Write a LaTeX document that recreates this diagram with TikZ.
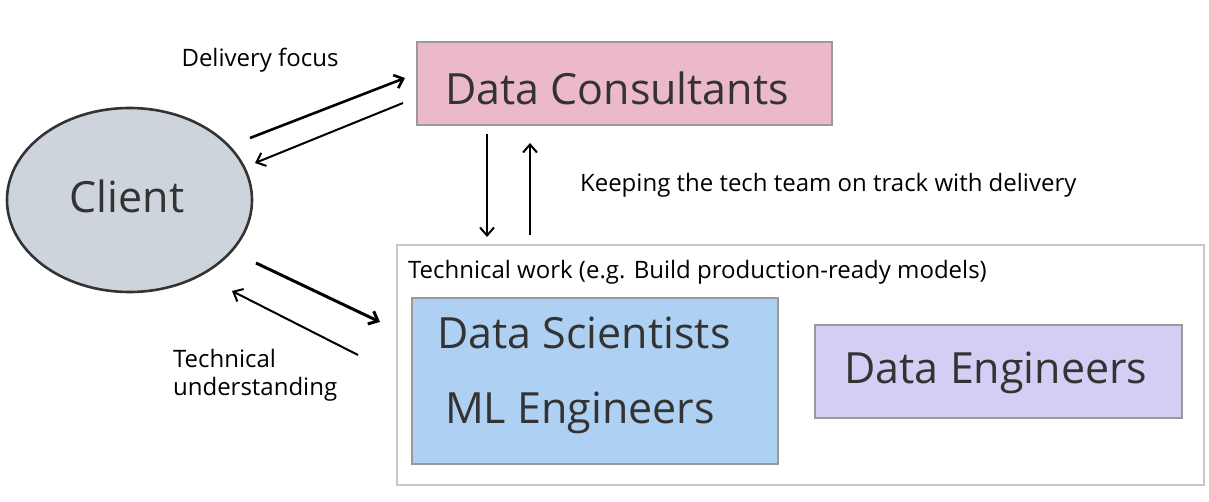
\documentclass[tikz,border=0pt]{standalone}
\usepackage{fontspec}
\setmainfont{Open Sans}
\usetikzlibrary{arrows.meta,shapes.geometric}
\definecolor{consfill}{HTML}{EBB9CB}
\definecolor{clientfill}{HTML}{CED4DC}
\definecolor{scifill}{HTML}{AED0F2}
\definecolor{engfill}{HTML}{D6CDF5}
\definecolor{boxline}{HTML}{9A9A9A}
\definecolor{techline}{HTML}{C8C8C8}
\definecolor{textgray}{HTML}{333333}
\begin{document}
\begin{tikzpicture}[x=0.5pt,y=-0.5pt,
	box/.style={draw=boxline,line width=1pt,inner sep=0pt},
	big/.style={font=\fontsize{21.5}{25}\selectfont,text=textgray},
	small/.style={font=\fontsize{12}{14}\selectfont},
	arr/.style={-{Straight Barb[length=4pt,width=7pt]},line width=1pt}]
\useasboundingbox (0,0) rectangle (1209,502);
% boxes
\node[box,draw=techline,fill=white,minimum width=403.5pt,minimum height=120pt] (tech) at (800.5,365) {};
\node[box,fill=consfill,minimum width=207.5pt,minimum height=41.5pt] (cons) at (624.5,83.5) {};
\node[big] (constxt) at (617,88) {Data Consultants};
\node[box,ellipse,draw=textgray,line width=1.3pt,fill=clientfill,minimum width=122.5pt,minimum height=92pt] (client) at (129.5,200) {};
\node[big] (clienttxt) at (127,196) {Client};
\node[box,fill=scifill,minimum width=183pt,minimum height=83pt] (sci) at (595,381) {};
\node[big] (scitxt) at (584,333) {Data Scientists};
\node[big] (mltxt) at (580,413) {ML Engineers};
\node[box,fill=engfill,minimum width=183.5pt,minimum height=46.5pt] (eng) at (998.5,371.5) {};
\node[big] (engtxt) at (996,373) {Data Engineers};
% labels
\node[small] (deliv) at (260,60) {Delivery focus};
\node[small,anchor=west] (track) at (573,185) {Keeping the tech team on track with delivery};
\node[small,anchor=west] (techwork) at (401,272) {Technical work (e.g. Build production-ready models)};
\node[small,anchor=west,align=left] (underst) at (166,375) {Technical\\understanding};
% arrows
\coordinate (c1) at (250,138);
\coordinate (c2) at (405,78);
\coordinate (c3) at (403,103);
\coordinate (c4) at (255,163);
\coordinate (c5) at (256,263);
\coordinate (c6) at (380,322);
\coordinate (c7) at (358,355);
\coordinate (c8) at (232,291);
\coordinate (d1) at (487,0);
\coordinate (d2) at (530,0);
\draw[arr,line width=1.3pt] (c1) -- (c2);
\draw[arr] (c3) -- (c4);
\draw[arr,shorten <=4pt,shorten >=3.5pt] (cons.south -| d1) -- (tech.north -| d1);
\draw[arr,shorten <=4.5pt,shorten >=8.5pt] (tech.north -| d2) -- (cons.south -| d2);
\draw[arr,line width=1.5pt] (c5) -- (c6);
\draw[arr] (c7) -- (c8);
\end{tikzpicture}
\end{document}
